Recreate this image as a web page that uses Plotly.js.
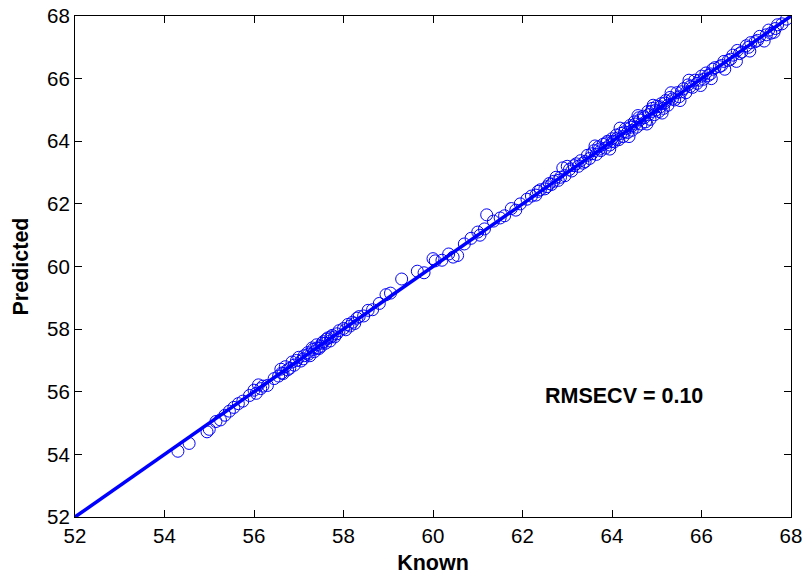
<!DOCTYPE html>
<html>
<head>
<meta charset="utf-8">
<script src="https://cdn.plot.ly/plotly-3.0.1.min.js"></script>
<style>html,body{margin:0;padding:0;background:#fff;}#chart{width:806px;height:575px;}</style>
</head>
<body>
<div id="chart"></div>
<script>
const known = [
54.30,54.55,54.95,55.00,55.15,55.25,55.35,55.45,55.55,55.65,55.75,55.90,56.00,56.05,56.10,56.15,56.20,56.30,56.45,56.55,
56.60,56.65,56.70,56.80,56.85,56.90,57.00,57.05,57.10,57.20,57.25,57.30,57.35,57.40,57.45,57.50,57.55,57.60,57.65,57.70,
57.75,57.80,57.90,58.00,58.05,58.10,58.20,58.25,58.35,58.45,58.55,58.65,58.80,58.95,59.05,59.30,59.65,59.80,60.00,60.05,
60.20,60.35,60.45,60.55,60.70,60.85,61.00,61.05,61.15,61.20,61.35,61.50,61.60,61.75,61.85,61.95,62.10,62.20,62.30,62.40,
62.50,62.60,62.65,62.75,62.80,62.90,62.95,63.00,63.10,63.15,63.25,63.30,63.40,63.45,63.50,63.60,63.65,63.70,63.75,63.80,
63.85,63.90,63.95,64.00,64.05,64.10,64.15,64.20,64.25,64.30,64.35,64.40,64.45,64.50,64.55,64.60,64.65,64.70,64.75,64.80,
64.85,64.90,64.95,65.00,65.05,65.10,65.15,65.20,65.25,65.30,65.40,65.45,65.50,65.60,65.65,65.70,65.80,65.85,65.90,66.00,
66.05,66.10,66.20,66.30,66.40,66.50,66.60,66.70,66.80,66.90,67.00,67.10,67.20,67.30,67.45,67.55,67.65,67.80,67.90,
56.62,56.75,56.95,57.12,57.22,57.32,57.42,57.52,57.62,57.72,57.85,58.15,58.30,62.35,62.55,62.70,62.85,63.05,63.20,63.35,
63.55,63.72,63.88,64.02,64.12,64.28,64.42,64.52,64.62,64.72,64.82,64.88,64.98,65.08,65.18,65.35,65.55,65.75,65.95,66.15,
66.25,66.45,66.65,66.85,67.05,67.25,67.50,67.70,
63.62,63.95,64.18,64.38,64.58,64.78,64.92,65.12,65.32,65.52,65.72,65.98,66.22,66.52,66.78,67.08,67.40,67.62
];
const predicted = [
54.10,54.35,54.72,54.80,55.05,55.10,55.25,55.38,55.50,55.62,55.70,55.88,56.05,55.95,56.22,56.10,56.18,56.20,56.42,56.50,
56.72,56.58,56.80,56.75,56.95,56.85,57.10,56.98,57.05,57.25,57.15,57.40,57.28,57.50,57.38,57.45,57.60,57.55,57.72,57.62,
57.80,57.75,57.95,58.02,57.98,58.15,58.22,58.18,58.40,58.42,58.60,58.62,58.82,59.10,59.15,59.60,59.85,59.80,60.25,60.18,
60.20,60.40,60.30,60.35,60.72,60.90,61.10,61.00,61.20,61.65,61.45,61.55,61.62,61.85,61.80,62.00,62.15,62.25,62.28,62.45,
62.48,62.65,62.62,62.85,62.75,63.15,62.90,63.20,63.05,63.22,63.20,63.38,63.35,63.55,63.45,63.70,63.58,63.82,63.70,63.90,
63.78,64.00,63.88,64.08,63.98,64.20,64.05,64.25,64.15,64.40,64.28,64.50,64.35,64.62,64.45,64.75,64.55,64.80,64.62,64.95,
64.70,65.05,64.85,65.12,64.95,65.20,65.05,65.30,65.15,65.40,65.32,65.55,65.42,65.68,65.55,65.80,65.72,65.95,65.85,66.08,
65.98,66.18,66.15,66.35,66.38,66.55,66.58,66.75,66.90,66.85,67.05,67.15,67.18,67.35,67.40,67.45,67.60,67.75,67.90,
56.60,56.70,57.00,57.15,57.20,57.35,57.40,57.55,57.68,57.75,57.85,58.10,58.35,62.40,62.55,62.72,62.85,63.10,63.28,63.30,
63.60,63.75,63.95,64.00,64.10,64.30,64.45,64.55,64.68,64.75,64.85,64.95,65.00,65.10,65.22,65.35,65.58,65.75,65.95,66.10,
66.30,66.42,66.62,66.80,67.00,67.22,67.55,67.72,
63.85,63.75,64.42,64.15,64.82,64.55,65.15,64.90,65.55,65.30,65.95,65.78,66.00,66.30,66.55,66.88,67.20,67.48
];
const fitX = [52, 68];
const fitY = [52, 68];
const tickVals = [52, 54, 56, 58, 60, 62, 64, 66, 68];
const annotationText = 'RMSECV = 0.10';

const traces = [
  {
    x: known, y: predicted, type: 'scatter', mode: 'markers',
    marker: {symbol: 'circle-open', size: 12, color: 'rgb(0,0,255)', line: {width: 1, color: 'rgb(0,0,255)'}},
    hoverinfo: 'skip', showlegend: false
  },
  {
    x: fitX, y: fitY, type: 'scatter', mode: 'lines',
    line: {color: 'rgb(0,0,255)', width: 3.5},
    hoverinfo: 'skip', showlegend: false
  }
];

const axisCommon = {
  range: [52, 68], tickvals: tickVals, ticktext: tickVals.map(String),
  ticks: 'inside', ticklen: 7, tickwidth: 1, tickcolor: '#000',
  showline: true, linecolor: '#000', linewidth: 1, mirror: 'ticks',
  showgrid: false, zeroline: false,
  tickfont: {family: 'Liberation Sans, Arial, sans-serif', size: 20.5, color: '#000'}
};

const layout = {
  width: 806, height: 575,
  margin: {l: 75, r: 15, t: 16, b: 58},
  paper_bgcolor: '#fff', plot_bgcolor: '#fff',
  font: {family: 'Liberation Sans, Arial, sans-serif', color: '#000'},
  xaxis: Object.assign({}, axisCommon, {
    title: {text: '<b>Known</b>', font: {size: 21.5, color: '#000'}, standoff: 9}
  }),
  yaxis: Object.assign({}, axisCommon, {
    title: {text: '<b>Predicted</b>', font: {size: 21.5, color: '#000'}, standoff: 12}
  }),
  annotations: [{
    x: 64.27, y: 55.86, xref: 'x', yref: 'y', text: '<b>' + annotationText + '</b>',
    showarrow: false, font: {size: 21.5, color: '#000'}
  }]
};

Plotly.newPlot('chart', traces, layout, {displayModeBar: false, staticPlot: true});
</script>
</body>
</html>
